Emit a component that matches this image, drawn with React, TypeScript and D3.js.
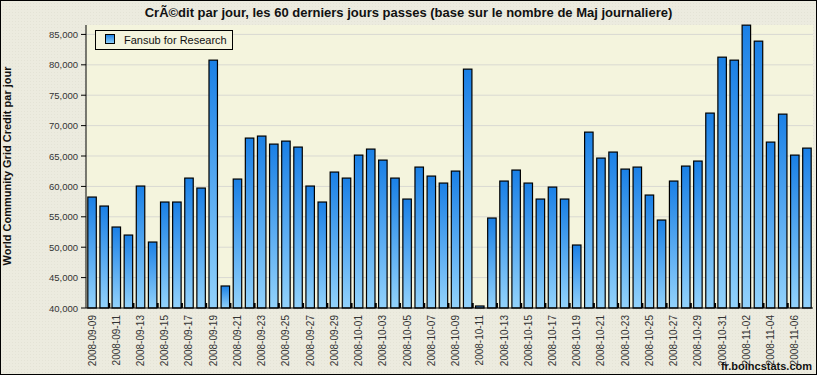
import React from "react";
import * as d3 from "d3";

const dates: string[] = [
  "2008-09-09","2008-09-10","2008-09-11","2008-09-12","2008-09-13","2008-09-14","2008-09-15","2008-09-16","2008-09-17","2008-09-18",
  "2008-09-19","2008-09-20","2008-09-21","2008-09-22","2008-09-23","2008-09-24","2008-09-25","2008-09-26","2008-09-27","2008-09-28",
  "2008-09-29","2008-09-30","2008-10-01","2008-10-02","2008-10-03","2008-10-04","2008-10-05","2008-10-06","2008-10-07","2008-10-08",
  "2008-10-09","2008-10-10","2008-10-11","2008-10-12","2008-10-13","2008-10-14","2008-10-15","2008-10-16","2008-10-17","2008-10-18",
  "2008-10-19","2008-10-20","2008-10-21","2008-10-22","2008-10-23","2008-10-24","2008-10-25","2008-10-26","2008-10-27","2008-10-28",
  "2008-10-29","2008-10-30","2008-10-31","2008-11-01","2008-11-02","2008-11-03","2008-11-04","2008-11-05","2008-11-06","2008-11-07",
];

const credits: number[] = [
  58250, 56770, 53320, 52000, 60060, 50850, 57430, 57430, 61370, 59730,
  80770, 43620, 61210, 67950, 68280, 66960, 67450, 66470, 60060, 57430,
  62360, 61370, 65150, 66140, 64330, 61370, 57920, 63180, 61700, 60550,
  62520, 79290, 40330, 54800, 60880, 62690, 60550, 57920, 59890, 57920,
  50360, 68930, 64660, 65650, 62850, 63180, 58580, 54470, 60880, 63345,
  64170, 72060, 81260, 80770, 86525, 83895, 67290, 71890, 65150, 66300,
];

const yTicks: number[] = [40000, 45000, 50000, 55000, 60000, 65000, 70000, 75000, 80000, 85000];

const seriesName = "Fansub for Research";
const titleText = "CrÃ©dit par jour, les 60 derniers jours passes (base sur le nombre de Maj journaliere)";
const yTitle = "World Community Grid Credit par jour";
const credit = "fr.boincstats.com";

const W = 817;
const H = 375;
const left = 86;
const right = 813;
const top = 25;
const bottom = 308;

export default function App() {
  const x = d3.scaleBand<string>().domain(dates).range([left, right]).paddingInner(0.3).paddingOuter(0.15);
  const y = d3.scaleLinear().domain([40000, 86550]).range([bottom, top]);
  const fmt = d3.format(",");
  const font = "'Liberation Sans', Arial, Helvetica, sans-serif";
  const step = x.step();
  const x0 = left + 0.15 * step - x.paddingInner() * step / 2;

  return (
    <svg width={W} height={H} style={{ position: "absolute", left: 0, top: 0, display: "block" }} fontFamily={font}>
      <defs>
        <linearGradient id="barGrad" x1="0" y1="0" x2="0" y2="1">
          <stop offset="0%" stopColor="#1a80e6" />
          <stop offset="100%" stopColor="#92d2fb" />
        </linearGradient>
        <pattern id="dots" width="3" height="3" patternUnits="userSpaceOnUse">
          <rect width="3" height="3" fill="#ecebdf" />
          <rect width="1" height="1" fill="#e4e3d6" />
        </pattern>
      </defs>
      <rect x={0} y={0} width={W} height={H} fill="url(#dots)" />
      <rect x={left} y={top} width={right - left} height={bottom - top} fill="#f4f4dd" />
      {yTicks.slice(1).map((t) => (
        <line key={"g" + t} x1={left} x2={right} y1={y(t)} y2={y(t)} stroke="#d9d9d2" strokeWidth={1} />
      ))}
      {dates.map((d, i) => (
        <rect
          key={d}
          x={x(d)}
          y={y(credits[i])}
          width={x.bandwidth()}
          height={bottom - y(credits[i])}
          fill="url(#barGrad)"
          stroke="#000"
          strokeWidth={1.2}
        />
      ))}
      {dates.map((d, i) =>
        i > 0 && i % 2 === 0 ? (
          <rect key={"t" + d} x={x0 + i * step - 2} y={bottom - 5} width={2} height={5} fill="#000" />
        ) : null
      )}
      <line x1={left} x2={left} y1={top} y2={bottom} stroke="#000" strokeWidth={1} />
      <line x1={left} x2={right} y1={bottom} y2={bottom} stroke="#000" strokeWidth={1} />
      {yTicks.map((t) => (
        <g key={"y" + t}>
          <line x1={left - 5} x2={left} y1={y(t)} y2={y(t)} stroke="#000" />
          <text x={left - 8} y={y(t) + 3.5} fontSize={9.5} textAnchor="end" fill="#333">
            {fmt(t)}
          </text>
        </g>
      ))}
      {dates.map((d, i) =>
        i % 2 === 0 ? (
          <text
            key={"xl" + d}
            transform={`translate(${(x(d) as number) + x.bandwidth() / 2 + 3.5},${bottom + 7}) rotate(-90)`}
            fontSize={10}
            textAnchor="end"
            fill="#333"
          >
            {d}
          </text>
        ) : null
      )}
      <text x={W / 2} y={17} textAnchor="middle" fontSize={13} fontWeight="bold" fill="#111">
        {titleText}
      </text>
      <text transform={`translate(11,166) rotate(-90)`} textAnchor="middle" fontSize={11} fontWeight="bold" fill="#111">
        {yTitle}
      </text>
      <g>
        <rect x={95.5} y={30.5} width={137} height={19} fill="#f4f4de" stroke="#000" strokeWidth={1} />
        <rect x={105.5} y={34.5} width={9} height={9} fill="url(#barGrad)" stroke="#000" strokeWidth={1} />
        <text x={124} y={43.5} fontSize={11} fill="#111">
          {seriesName}
        </text>
      </g>
      <text x={812} y={370} textAnchor="end" fontSize={11} fontWeight="bold" fill="#111">
        {credit}
      </text>
      <rect x={0.5} y={0.5} width={W - 1} height={H - 1} fill="none" stroke="#000" strokeWidth={1} />
    </svg>
  );
}
